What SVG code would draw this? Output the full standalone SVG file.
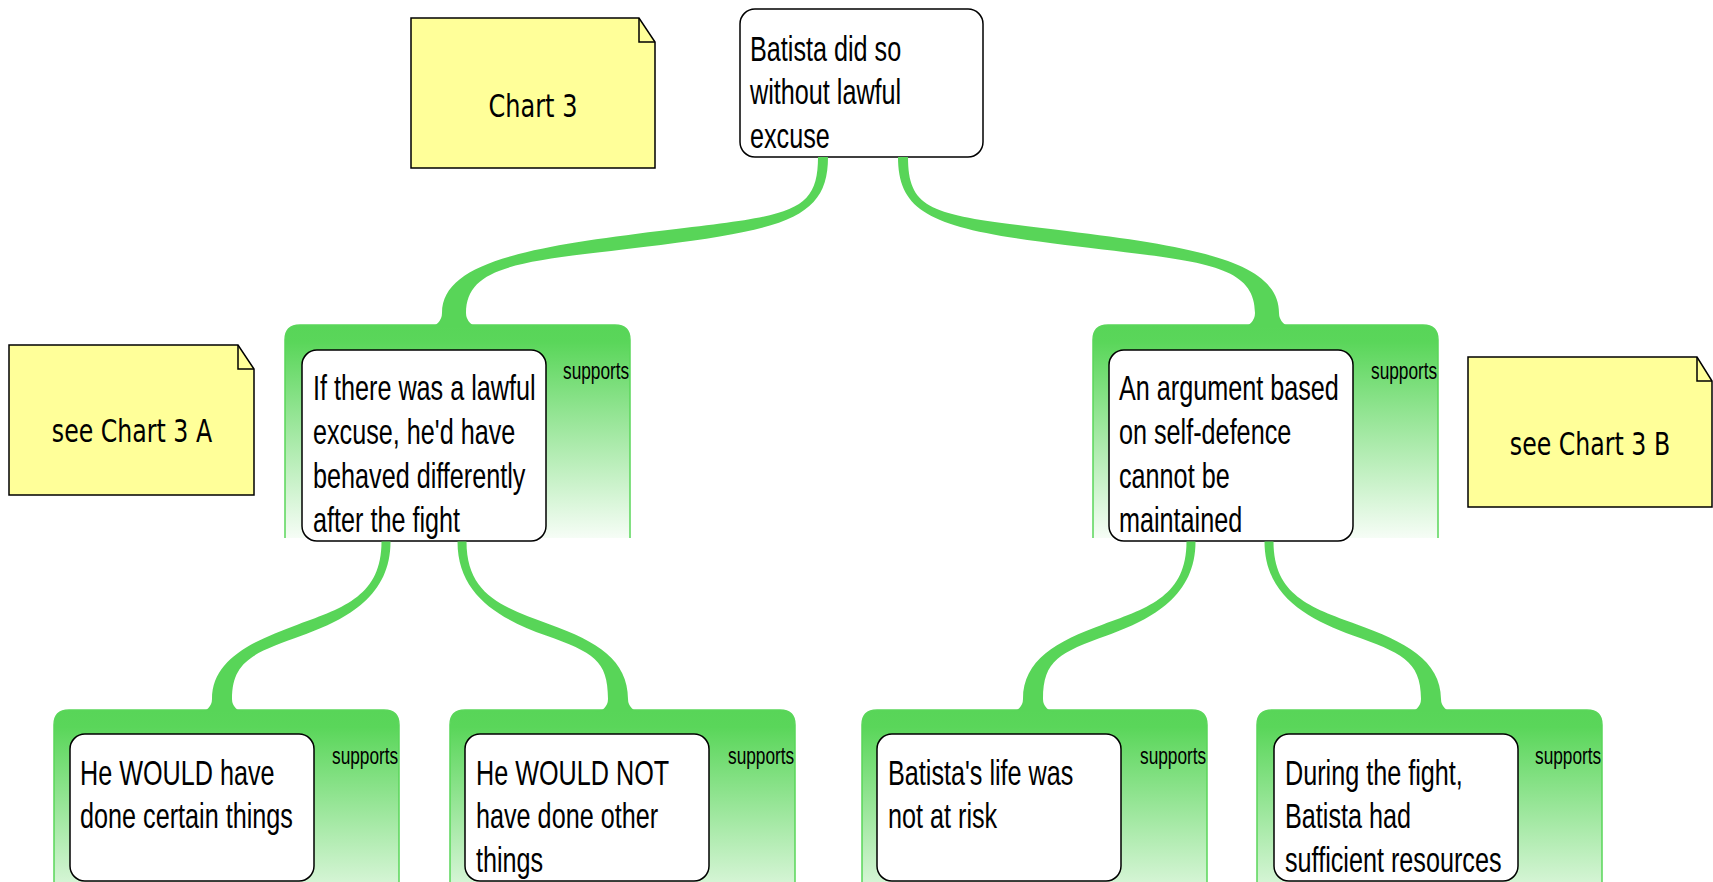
<svg xmlns="http://www.w3.org/2000/svg" width="1713" height="882" viewBox="0 0 1713 882">
  <defs>
    <!-- green band behind each supporting claim, fading to white -->
    <linearGradient id="panelFill" x1="0" y1="0" x2="0" y2="1">
      <stop offset="0" stop-color="#58d558"/>
      <stop offset="0.08" stop-color="#5ad65a"/>
      <stop offset="1" stop-color="#f6fdf6"/>
    </linearGradient>
    <style>
      .panel { fill: url(#panelFill); stroke: #5ad65a; stroke-width: 1.5; }
      .box { fill: #ffffff; stroke: #000000; stroke-width: 1.5; }
      .note { fill: #ffff99; stroke: #000000; stroke-width: 1.5; stroke-linejoin: miter; }
      .fold { fill: none; stroke: #000000; stroke-width: 1.5; }
      .branch { fill: #58d558; stroke: none; }
      .claim { font-family: "Liberation Sans", Arial, sans-serif; font-size: 35px; fill: #000000; }
      .rel { font-family: "Liberation Sans", Arial, sans-serif; font-size: 24px; fill: #000000; }
      .note-text { font-family: "DejaVu Sans", sans-serif; font-size: 32px; fill: #000000; text-anchor: middle; }
    </style>
  </defs>

  <!-- sticky notes -->
  <g id="note-chart3">
    <path class="note" d="M 411 18 L 639 18 L 655 42 L 655 168 L 411 168 Z"/>
    <path class="fold" d="M 639 18 L 639 42 L 655 42"/>
    <text class="note-text" transform="matrix(0.75 0 0 1 533 0)" x="0" y="117">Chart 3</text>
  </g>
  <g id="note-chart3a">
    <path class="note" d="M 9 345 L 238 345 L 254 369 L 254 495 L 9 495 Z"/>
    <path class="fold" d="M 238 345 L 238 369 L 254 369"/>
    <text class="note-text" transform="matrix(0.74 0 0 1 132 0)" x="0" y="442">see Chart 3 A</text>
  </g>
  <g id="note-chart3b">
    <path class="note" d="M 1468 357 L 1697 357 L 1712 381 L 1712 507 L 1468 507 Z"/>
    <path class="fold" d="M 1697 357 L 1697 381 L 1712 381"/>
    <text class="note-text" transform="matrix(0.74 0 0 1 1590 0)" x="0" y="455">see Chart 3 B</text>
  </g>

  <!-- main claim -->
  <g id="claim-root">
    <rect class="box" x="740" y="9" width="243" height="148" rx="15" ry="15"/>
    <text class="claim" transform="matrix(0.72 0 0 1 750 0)" y="61">
      <tspan x="0">Batista did so</tspan>
      <tspan x="0" dy="43.5">without lawful</tspan>
      <tspan x="0" dy="43.5">excuse</tspan>
    </text>
  </g>

  <!-- second level -->
  <g id="claim-behaviour">
    <path class="panel" d="M 285 538 L 285 340 Q 285 325 300 325 L 615 325 Q 630 325 630 340 L 630 538"/>
    <rect class="box" x="302" y="350" width="244" height="191" rx="15" ry="15"/>
    <text class="claim" transform="matrix(0.72 0 0 1 313 0)" y="400">
      <tspan x="0">If there was a lawful</tspan>
      <tspan x="0" dy="44">excuse, he'd have</tspan>
      <tspan x="0" dy="44">behaved differently</tspan>
      <tspan x="0" dy="44">after the fight</tspan>
    </text>
    <text class="rel" transform="matrix(0.72 0 0 1 563 0)" y="379">supports</text>
  </g>

  <g id="claim-selfdefence">
    <path class="panel" d="M 1093 538 L 1093 340 Q 1093 325 1108 325 L 1423 325 Q 1438 325 1438 340 L 1438 538"/>
    <rect class="box" x="1109" y="350" width="244" height="191" rx="15" ry="15"/>
    <text class="claim" transform="matrix(0.72 0 0 1 1119 0)" y="400">
      <tspan x="0">An argument based</tspan>
      <tspan x="0" dy="44">on self-defence</tspan>
      <tspan x="0" dy="44">cannot be</tspan>
      <tspan x="0" dy="44">maintained</tspan>
    </text>
    <text class="rel" transform="matrix(0.72 0 0 1 1371 0)" y="379">supports</text>
  </g>

  <!-- third level -->
  <g id="claim-would">
    <path class="panel" d="M 54 925 L 54 725 Q 54 710 69 710 L 384 710 Q 399 710 399 725 L 399 925"/>
    <rect class="box" x="70" y="734" width="244" height="147" rx="15" ry="15"/>
    <text class="claim" transform="matrix(0.72 0 0 1 80 0)" y="785">
      <tspan x="0">He WOULD have</tspan>
      <tspan x="0" dy="43.5">done certain things</tspan>
    </text>
    <text class="rel" transform="matrix(0.72 0 0 1 332 0)" y="764">supports</text>
  </g>

  <g id="claim-would-not">
    <path class="panel" d="M 450 925 L 450 725 Q 450 710 465 710 L 780 710 Q 795 710 795 725 L 795 925"/>
    <rect class="box" x="465" y="734" width="244" height="147" rx="15" ry="15"/>
    <text class="claim" transform="matrix(0.72 0 0 1 476 0)" y="785">
      <tspan x="0">He WOULD NOT</tspan>
      <tspan x="0" dy="43.5">have done other</tspan>
      <tspan x="0" dy="43.5">things</tspan>
    </text>
    <text class="rel" transform="matrix(0.72 0 0 1 728 0)" y="764">supports</text>
  </g>

  <g id="claim-no-risk">
    <path class="panel" d="M 862 925 L 862 725 Q 862 710 877 710 L 1192 710 Q 1207 710 1207 725 L 1207 925"/>
    <rect class="box" x="877" y="734" width="244" height="147" rx="15" ry="15"/>
    <text class="claim" transform="matrix(0.72 0 0 1 888 0)" y="785">
      <tspan x="0">Batista's life was</tspan>
      <tspan x="0" dy="43.5">not at risk</tspan>
    </text>
    <text class="rel" transform="matrix(0.72 0 0 1 1140 0)" y="764">supports</text>
  </g>

  <g id="claim-resources">
    <path class="panel" d="M 1257 925 L 1257 725 Q 1257 710 1272 710 L 1587 710 Q 1602 710 1602 725 L 1602 925"/>
    <rect class="box" x="1274" y="734" width="244" height="147" rx="15" ry="15"/>
    <text class="claim" transform="matrix(0.72 0 0 1 1285 0)" y="785">
      <tspan x="0">During the fight,</tspan>
      <tspan x="0" dy="43.5">Batista had</tspan>
      <tspan x="0" dy="43.5">sufficient resources</tspan>
    </text>
    <text class="rel" transform="matrix(0.72 0 0 1 1535 0)" y="764">supports</text>
  </g>

  <!-- tapered branches from each claim down to its supporting claims -->
  <g id="connectors">
    <path class="branch" d="M 818 157 C 818 215 789.2 215.1 659.2 231.1 C 529.2 247.1 442 262 442 313 A 14 14 0 0 1 428 327 L 480 327 A 14 14 0 0 1 466 313 C 466 262 530.8 260.9 660.8 244.9 C 790.8 228.9 828 215 828 157 Z"/>
    <path class="branch" d="M 898 157 C 898 215 935.2 229 1065.2 245 C 1195.2 261 1255 262 1255 313 A 14 14 0 0 1 1241 327 L 1293 327 A 14 14 0 0 1 1279 313 C 1279 262 1196.8 247 1066.8 231 C 936.8 215 908 215 908 157 Z"/>
    <path class="branch" d="M 381.5 541.5 C 381.5 595 345 607.4 298 624.4 C 251 641.4 212 660 212 699 A 13 13 0 0 1 199 712 L 245 712 A 13 13 0 0 1 232 699 C 232 660 255 652.6 302 635.6 C 349 618.6 390.5 595 390.5 541.5 Z"/>
    <path class="branch" d="M 457.5 541.5 C 457.5 595 499 618.6 546 635.6 C 593 652.6 608 660 608 699 A 13 13 0 0 1 595 712 L 641 712 A 13 13 0 0 1 628 699 C 628 660 597 641.4 550 624.4 C 503 607.4 466.5 595 466.5 541.5 Z"/>
    <path class="branch" d="M 1186.5 541.5 C 1186.5 595 1150 607.4 1103 624.4 C 1056 641.4 1023 660 1023 699 A 13 13 0 0 1 1010 712 L 1056 712 A 13 13 0 0 1 1043 699 C 1043 660 1060 652.6 1107 635.6 C 1154 618.6 1195.5 595 1195.5 541.5 Z"/>
    <path class="branch" d="M 1264.5 541.5 C 1264.5 595 1306 618.6 1353 635.6 C 1400 652.6 1421 660 1421 699 A 13 13 0 0 1 1408 712 L 1454 712 A 13 13 0 0 1 1441 699 C 1441 660 1404 641.4 1357 624.4 C 1310 607.4 1273.5 595 1273.5 541.5 Z"/>
  </g>
</svg>
